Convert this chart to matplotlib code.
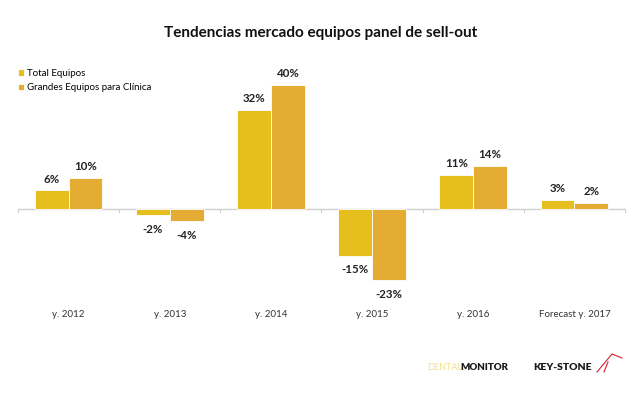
import matplotlib
matplotlib.use("Agg")
import matplotlib.pyplot as plt
import numpy as np

categories = ["y. 2012", "y. 2013", "y. 2014", "y. 2015", "y. 2016", "Forecast y. 2017"]
total_equipos = [6, -2, 32, -15, 11, 3]
grandes_equipos = [10, -4, 40, -23, 14, 2]
series_names = ["Total Equipos", "Grandes Equipos para Clínica"]

c1 = "#E6BF1F"
c2 = "#E4AC33"
plt.rcParams['font.family'] = ['Lato', 'DejaVu Sans']

fig = plt.figure(figsize=(6.42, 3.97), dpi=100)
ax = fig.add_axes([18/642, 1-302/397, 607/642, 232.5/397])
x = np.arange(len(categories))
w = 0.335
b1 = ax.bar(x - w/2, total_equipos, w, color=c1, edgecolor="white", linewidth=0.6, label=series_names[0])
b2 = ax.bar(x + w/2, grandes_equipos, w, color=c2, edgecolor="white", linewidth=0.6, label=series_names[1])
ax.set_xlim(-0.5, len(categories) - 0.5)
ax.set_ylim(-30, 45)
for s in ax.spines.values():
    s.set_visible(False)
ax.set_yticks([])
ax.set_xticks(x)
ax.set_xticklabels(categories, fontsize=7, color="#333333")
ax.tick_params(axis="x", length=0, pad=6)
ax.axhline(0, color="#cfcfcf", lw=1, zorder=0)
for b in np.arange(-0.5, len(categories), 1.0):
    ax.plot([b, b], [0, -0.9], color="#cfcfcf", lw=0.8, clip_on=False)

for bars in (b1, b2):
    for r in bars:
        v = r.get_height()
        cx = r.get_x() + r.get_width()/2
        if v >= 0:
            ax.annotate(f"{v:.0f}%", (cx, v), xytext=(0, 4), textcoords="offset points",
                        ha="center", va="bottom", fontsize=8.3, fontweight="bold", color="#222222")
        else:
            ax.annotate(f"{v:.0f}%", (cx, v), xytext=(0, -6), textcoords="offset points",
                        ha="center", va="top", fontsize=8.3, fontweight="bold", color="#222222")

fig.text(0.5, 1-33/397, "Tendencias mercado equipos panel de sell-out", ha="center", va="center",
         fontsize=11, fontweight="bold", color="#111111")
leg = ax.legend(loc="upper left", bbox_to_anchor=(18/642, 1-69/397), bbox_transform=fig.transFigure,
                frameon=False, fontsize=7, handlelength=0.6, handleheight=0.6, handletextpad=0.3,
                labelspacing=0.55, borderpad=0, borderaxespad=0)

# logos as text
fig.text(427/642, 1-367/397, "DENTAL", fontsize=6.5, color="#F2E08A", ha="left", va="center")
fig.text(460/642, 1-367/397, "MONITOR", fontsize=7, fontweight="heavy", color="#1a1a1a", ha="left", va="center")
fig.text(533/642, 1-367/397, "KEY-STONE", fontsize=7.5, fontweight="heavy", color="#1a1a1a", ha="left", va="center")
fig.add_artist(plt.Line2D([597/642, 612/642, 622/642], [1-372/397, 1-354/397, 1-358/397],
                          transform=fig.transFigure, color="#D8202A", lw=0.8))
fig.add_artist(plt.Line2D([604/642, 608/642], [1-372/397, 1-362/397],
                          transform=fig.transFigure, color="#D8202A", lw=0.8))

fig.savefig("out.png", dpi=100)
